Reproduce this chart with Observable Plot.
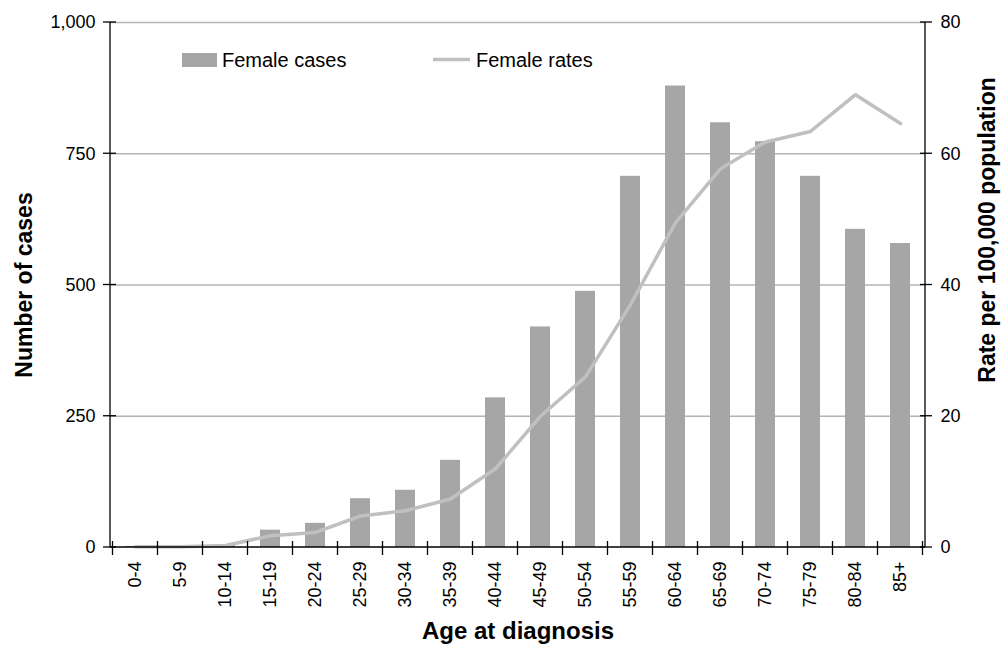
<!DOCTYPE html>
<html>
<head>
<meta charset="utf-8">
<script src="https://cdn.jsdelivr.net/npm/d3@7"></script>
<script src="https://cdn.jsdelivr.net/npm/@observablehq/plot@0.6"></script>
<style>
  html, body { margin: 0; padding: 0; background: #fff; }
  #chart { width: 1001px; height: 651px; }
</style>
</head>
<body>
<div id="chart"></div>
<script>
const ages = ["0-4","5-9","10-14","15-19","20-24","25-29","30-34","35-39","40-44","45-49","50-54","55-59","60-64","65-69","70-74","75-79","80-84","85+"];
const cases = [2, 1, 4, 33, 46, 93, 109, 166, 285, 420, 488, 707, 879, 809, 773, 707, 606, 579];
const rates = [0.1, 0.1, 0.3, 1.8, 2.3, 4.8, 5.6, 7.4, 12, 20, 26, 37, 49.5, 57.7, 61.8, 63.4, 69, 64.6];
const caseTicks = [0, 250, 500, 750, 1000];
const rateTicks = [0, 20, 40, 60, 80];
const legendLabels = ["Female cases", "Female rates"];

const caseMax = 1000, rateMax = 80;
const k = caseMax / rateMax; // rate -> case units for the secondary axis

const data = ages.map((a, i) => ({age: a, cases: cases[i], rate: rates[i]}));

const barColor = "#a6a6a6";
const lineColor = "#c0c0c0";
const gridColor = "#b4b4b4";

function decor(index, scales, values, dims) {
  const {x, y} = scales;
  const g = d3.create("svg:g").attr("stroke", "#000").attr("stroke-width", 1.3).attr("fill", "none");
  const xl = dims.marginLeft, xr = dims.width - dims.marginRight;
  const yb = y(0), yt = y(caseMax);
  g.append("line").attr("x1", xl).attr("x2", xl).attr("y1", yt).attr("y2", yb);
  g.append("line").attr("x1", xr).attr("x2", xr).attr("y1", yt).attr("y2", yb);
  g.append("line").attr("x1", xl).attr("x2", xr).attr("y1", yb).attr("y2", yb);
  for (const v of caseTicks) g.append("line").attr("x1", xl - 7).attr("x2", xl + 6).attr("y1", y(v)).attr("y2", y(v));
  for (const r of rateTicks) g.append("line").attr("x1", xr - 5).attr("x2", xr + 7).attr("y1", y(r * k)).attr("y2", y(r * k));
  const step = x.step(), bw = x.bandwidth();
  const bounds = ages.map(a => x(a) + bw / 2 - step / 2);
  bounds.push(x(ages[ages.length - 1]) + bw / 2 + step / 2);
  for (const b of bounds) g.append("line").attr("x1", b).attr("x2", b).attr("y1", yb - 6).attr("y2", yb + 8);
  return g.node();
}

function legend() {
  const g = d3.create("svg:g").attr("font-size", 20).attr("fill", "#000").attr("text-anchor", "start");
  g.append("rect").attr("x", 182).attr("y", 53).attr("width", 35).attr("height", 14).attr("fill", barColor);
  g.append("text").attr("x", 222).attr("y", 66.5).text(legendLabels[0]);
  g.append("line").attr("x1", 433).attr("x2", 470).attr("y1", 59.5).attr("y2", 59.5)
    .attr("stroke", lineColor).attr("stroke-width", 3.5);
  g.append("text").attr("x", 476).attr("y", 66.5).text(legendLabels[1]);
  return g.node();
}

const plot = Plot.plot({
  width: 1001,
  height: 651,
  marginLeft: 110,
  marginRight: 76,
  marginTop: 22,
  marginBottom: 104,
  style: {fontFamily: "'Liberation Sans', Arial, sans-serif", fontSize: "18px", color: "#000", background: "#fff"},
  x: {domain: ages, paddingInner: 0.56, paddingOuter: 0.28, label: null},
  y: {domain: [0, caseMax], label: null},
  marks: [
    Plot.gridY(caseTicks.filter(d => d > 0), {stroke: gridColor, strokeOpacity: 1, strokeWidth: 1.3}),
    Plot.barY(data, {x: "age", y: "cases", fill: barColor}),
    Plot.line(data, {x: "age", y: d => d.rate * k, stroke: lineColor, strokeWidth: 3.5, strokeLinejoin: "miter"}),
    Plot.axisY(caseTicks, {anchor: "left", tickSize: 0, tickPadding: 15, tickFormat: d3.format(","), fontSize: 18}),
    Plot.axisY(rateTicks.map(r => r * k), {anchor: "right", tickSize: 0, tickPadding: 15, tickFormat: d => d3.format(",")(d / k), fontSize: 18}),
    Plot.axisX({anchor: "bottom", tickSize: 0, tickPadding: 14, tickRotate: -90, fontSize: 18}),
    decor,
    legend,
    Plot.text(["Number of cases"], {frameAnchor: "left", textAnchor: "middle", dx: -86, rotate: -90, fontSize: 23, fontWeight: "bold", text: d => d}),
    Plot.text(["Rate per 100,000 population"], {frameAnchor: "right", textAnchor: "middle", dx: 62, dy: -55, rotate: -90, fontSize: 23, fontWeight: "bold", text: d => d}),
    Plot.text(["Age at diagnosis"], {frameAnchor: "bottom", textAnchor: "middle", dy: 91, fontSize: 24, fontWeight: "bold", text: d => d})
  ]
});
document.getElementById("chart").appendChild(plot);
</script>
</body>
</html>
